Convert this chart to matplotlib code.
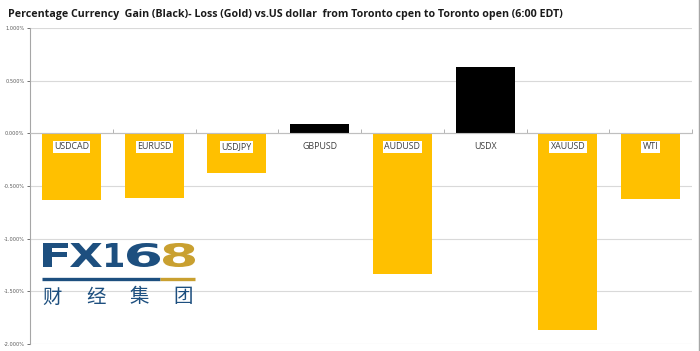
import matplotlib
matplotlib.use("Agg")
import matplotlib.pyplot as plt
from matplotlib.lines import Line2D
from matplotlib.ticker import FuncFormatter, MultipleLocator
from matplotlib.textpath import TextPath
from matplotlib.patches import PathPatch
from matplotlib.font_manager import FontProperties
from matplotlib.transforms import Affine2D
import numpy as np

categories = ["USDCAD", "EURUSD", "USDJPY", "GBPUSD", "AUDUSD", "USDX", "XAUUSD", "WTI"]
values = [-0.63, -0.61, -0.38, 0.09, -1.34, 0.63, -1.87, -0.62]
title = "Percentage Currency  Gain (Black)- Loss (Gold) vs.US dollar  from Toronto cpen to Toronto open (6:00 EDT)"

GOLD = "#FFC000"
colors = ["black" if v > 0 else GOLD for v in values]

W, H = 700, 351
fig = plt.figure(figsize=(7.0, 3.51), dpi=100)
ax = fig.add_axes([30/W, 1-344/H, 662/W, (344-28)/H])

x = np.arange(len(categories))
ax.bar(x, values, width=0.71, color=colors, zorder=3)

ax.set_xlim(-0.5, len(categories) - 0.5)
ax.set_ylim(-2.0, 1.0)
ax.yaxis.set_major_locator(MultipleLocator(0.5))
ax.yaxis.set_major_formatter(FuncFormatter(lambda v, p: f"{v:.3f}%"))
ax.tick_params(axis="y", labelsize=3.6, colors="#595959", length=2.5, width=0.6, pad=1.5)
ax.grid(axis="y", color="#d9d9d9", linewidth=0.8, zorder=0)

for s in ["top", "right"]:
    ax.spines[s].set_visible(False)
ax.spines["left"].set_color("#a6a6a6")
ax.spines["left"].set_linewidth(0.8)
ax.spines["bottom"].set_position(("data", 0))
ax.spines["bottom"].set_color("#bfbfbf")
ax.spines["bottom"].set_linewidth(0.8)
ax.spines["bottom"].set_zorder(4)

ax.set_xticks(np.arange(len(categories) + 1) - 0.5)
ax.set_xticklabels([])
ax.tick_params(axis="x", direction="in", length=3, width=0.6, color="#a6a6a6")

for xi, lab in zip(x, categories):
    ax.annotate(lab, xy=(xi, 0), xytext=(0, -9.6), textcoords="offset points",
                ha="center", va="center", fontsize=6.4, color="#404040",
                family="Open Sans", zorder=6,
                bbox=dict(boxstyle="square,pad=0.15", fc="white", ec="none"))

fig.text(8/W, 1-15/H, title, fontsize=7.65, fontweight="bold",
         family="Open Sans", ha="left", va="center", color="#1a1a1a")

# right border
fig.add_artist(Line2D([698.5/W, 698.5/W], [0, 1], transform=fig.transFigure,
                      color="#a6a6a6", linewidth=1.0))

# logo
BLUE = "#1d4f7f"
LGOLD = "#c9a030"
fp = FontProperties(family="DejaVu Sans", weight="bold")
logo_chars = ["F", "X", "1", "6", "8"]
logo_boxes = [(43, 68), (70, 102), (106, 123), (127, 160), (163, 195)]
top_px, bot_px = 243, 267
for ch, (x0, x1) in zip(logo_chars, logo_boxes):
    tp = TextPath((0, 0), ch, size=1, prop=fp)
    ext = tp.get_extents()
    sx = (x1 - x0) / W / ext.width
    sy = (bot_px - top_px) / H / ext.height
    tr = (Affine2D().translate(-ext.x0, -ext.y0).scale(sx, sy)
          .translate(x0 / W, 1 - bot_px / H) + fig.transFigure)
    patch = PathPatch(tp, transform=tr, color=LGOLD if ch == "8" else BLUE, lw=0)
    fig.add_artist(patch)
fig.add_artist(Line2D([42/W, 160/W], [1-279/H]*2, transform=fig.transFigure,
                      color=BLUE, linewidth=2.4, solid_capstyle="butt"))
fig.add_artist(Line2D([160/W, 195/W], [1-279/H]*2, transform=fig.transFigure,
                      color=LGOLD, linewidth=2.4, solid_capstyle="butt"))
for i, ch in enumerate("财经集团"):
    fig.text((52 + i * 43.7)/W, 1-297/H, ch, fontsize=14, color=BLUE,
             family="Noto Sans CJK SC", ha="center", va="center")

fig.savefig("out.png", dpi=100)
